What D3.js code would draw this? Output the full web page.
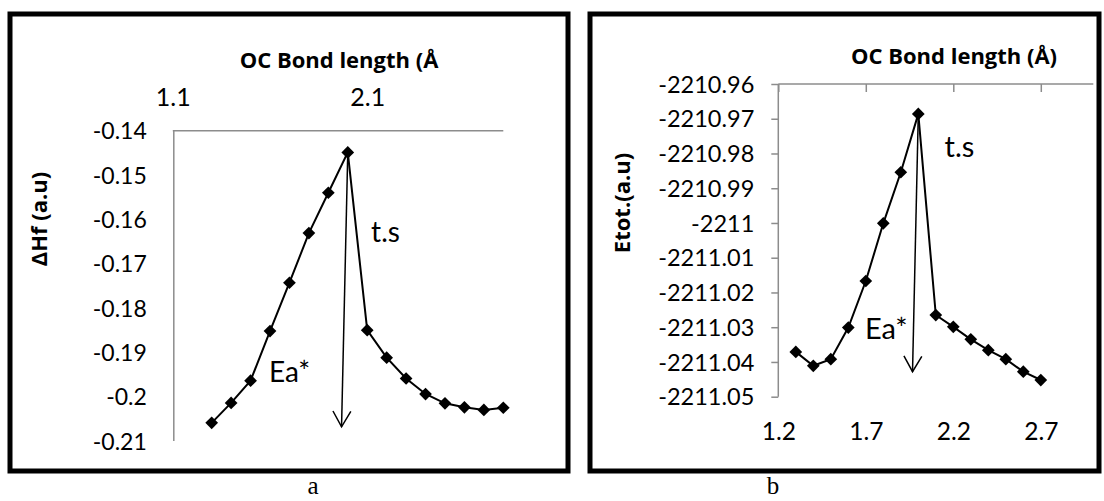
<!DOCTYPE html>
<html>
<head>
<meta charset="utf-8">
<script src="https://cdn.jsdelivr.net/npm/d3@7"></script>
<style>
  html, body { margin: 0; padding: 0; background: #fff; }
  svg { display: block; }
</style>
</head>
<body>
<svg id="chart" width="1104" height="501"></svg>
<script>
// ---------- data ----------
const bondLengthA = [1.3, 1.4, 1.5, 1.6, 1.7, 1.8, 1.9, 2.0, 2.1, 2.2, 2.3, 2.4, 2.5, 2.6, 2.7, 2.8];
const deltaHf = [-0.2059, -0.2014, -0.1964, -0.1852, -0.1743, -0.1631, -0.1540, -0.1449,
                 -0.1850, -0.1912, -0.1959, -0.1994, -0.2015, -0.2024, -0.2030, -0.2025];
const bondLengthB = [1.3, 1.4, 1.5, 1.6, 1.7, 1.8, 1.9, 2.0, 2.1, 2.2, 2.3, 2.4, 2.5, 2.6, 2.7];
const etot = [-2211.0371, -2211.0411, -2211.0392, -2211.0301, -2211.0167, -2211.0001, -2210.9854, -2210.9686,
              -2211.0265, -2211.0299, -2211.0335, -2211.0366, -2211.0392, -2211.0428, -2211.0452];

const aYTicks = [-0.14, -0.15, -0.16, -0.17, -0.18, -0.19, -0.20, -0.21];
const aXTicks = [1.1, 2.1];
const bYTicks = [-2210.96, -2210.97, -2210.98, -2210.99, -2211.00, -2211.01, -2211.02, -2211.03, -2211.04, -2211.05];
const bXTicks = [1.2, 1.7, 2.2, 2.7];

const aTitle = "OC Bond length (Å";
const aYTitle = "ΔHf (a.u)";
const bTitle = "OC Bond length (Å)";
const bYTitle = "Etot.(a.u)";

// annotation arrows (data units): [x0, y0, x1, y1]
const aArrow = [2.0, -0.1449, 1.968, -0.2068];
const bArrow = [2.0, -2210.9686, 1.967, -2211.0428];

// ---------- drawing ----------
const svg = d3.select("#chart");
const fmt = v => String(+v.toFixed(2));
const AXIS = "#8c8c8c";
const REG = "Lato, 'Open Sans', sans-serif";
const BOLD = "'Open Sans', Lato, sans-serif";

function txt(sel, family, size, weight) {
  return sel.style("font-family", family).style("font-size", size + "px")
    .style("font-weight", weight || "normal").style("fill", "#000");
}

function frame(x0, y0, x1, y1) {
  svg.append("rect").attr("x", x0).attr("y", y0).attr("width", x1 - x0).attr("height", y1 - y0)
    .attr("fill", "none").attr("stroke", "#000").attr("stroke-width", 5);
}

function arrow(g, x, y, a) {
  const x0 = x(a[0]), y0 = y(a[1]), x1 = x(a[2]), y1 = y(a[3]);
  g.append("line").attr("x1", x0).attr("y1", y0).attr("x2", x1).attr("y2", y1)
    .attr("stroke", "#000").attr("stroke-width", 1.5);
  const ang = Math.atan2(y1 - y0, x1 - x0);
  const L = 18, W = 0.52;
  const p1 = [x1 - L * Math.cos(ang - W), y1 - L * Math.sin(ang - W)];
  const p2 = [x1 - L * Math.cos(ang + W), y1 - L * Math.sin(ang + W)];
  g.append("path").attr("d", `M${p1[0]},${p1[1]}L${x1},${y1}L${p2[0]},${p2[1]}`)
    .attr("fill", "none").attr("stroke", "#000").attr("stroke-width", 1.5);
}

function series(g, x, y, xs, ys) {
  const pts = xs.map((d, i) => [d, ys[i]]);
  g.append("path").datum(pts)
    .attr("d", d3.line().x(d => x(d[0])).y(d => y(d[1])))
    .attr("fill", "none").attr("stroke", "#000").attr("stroke-width", 2);
  g.selectAll("path.pt").data(pts).enter().append("path").attr("class", "pt")
    .attr("d", d3.symbol(d3.symbolSquare, 81)())
    .attr("transform", d => `translate(${x(d[0])},${y(d[1])}) rotate(45)`)
    .attr("fill", "#000");
}

// ----- panel a -----
frame(10, 14, 568, 471);
{
  const g = svg.append("g");
  const x = d3.scaleLinear().domain([1.1, 2.8]).range([172.8, 503.3]);
  const y = d3.scaleLinear().domain([-0.21, -0.14]).range([441, 130.7]);
  g.append("line").attr("x1", x(1.1)).attr("x2", x(2.8)).attr("y1", y(-0.14)).attr("y2", y(-0.14))
    .attr("stroke", AXIS).attr("stroke-width", 1.5);
  g.append("line").attr("x1", x(1.1) + 1).attr("x2", x(1.1) + 1).attr("y1", y(-0.14)).attr("y2", y(-0.21))
    .attr("stroke", AXIS).attr("stroke-width", 1.5);
  const ya = g.append("g").attr("transform", `translate(${x(1.1) - 26},0)`)
    .call(d3.axisLeft(y).tickValues(aYTicks).tickSize(0).tickPadding(0).tickFormat(fmt));
  ya.select(".domain").remove();
  txt(ya.selectAll("text"), REG, 23).attr("dy", "0.35em");
  const xa = g.append("g").attr("transform", `translate(0,${y(-0.14) - 25})`)
    .call(d3.axisTop(x).tickValues(aXTicks).tickSize(0).tickPadding(0).tickFormat(fmt));
  xa.select(".domain").remove();
  txt(xa.selectAll("text"), REG, 25).attr("dy", "0");
  txt(g.append("text").attr("x", 339).attr("y", 68).attr("text-anchor", "middle"), BOLD, 22, "bold").text(aTitle);
  txt(g.append("text").attr("transform", "translate(47,219) rotate(-90)").attr("text-anchor", "middle"), BOLD, 22, "bold").text(aYTitle);
  series(g, x, y, bondLengthA, deltaHf);
  arrow(g, x, y, aArrow);
  txt(g.append("text").attr("x", x(2.12)).attr("y", y(-0.1651)), REG, 28).text("t.s");
  txt(g.append("text").attr("x", x(1.595)).attr("y", y(-0.1966)), REG, 28).text("Ea*");
}

// ----- panel b -----
frame(590, 14, 1099, 471);
{
  const g = svg.append("g");
  const x = d3.scaleLinear().domain([1.2, 3.0]).range([778.3, 1093.3]);
  const y = d3.scaleLinear().domain([-2211.05, -2210.96]).range([396.7, 84]);
  g.append("line").attr("x1", x(1.2)).attr("x2", x(3.0)).attr("y1", y(-2210.96)).attr("y2", y(-2210.96))
    .attr("stroke", AXIS).attr("stroke-width", 1.5);
  g.append("line").attr("x1", x(1.2)).attr("x2", x(1.2)).attr("y1", y(-2210.96)).attr("y2", y(-2211.05))
    .attr("stroke", AXIS).attr("stroke-width", 1.5);
  const ya = g.append("g").attr("transform", `translate(${x(1.2)},0)`)
    .call(d3.axisLeft(y).tickValues(bYTicks).tickSize(7).tickPadding(17).tickFormat(fmt));
  ya.select(".domain").remove();
  ya.selectAll("line").attr("stroke", AXIS).attr("stroke-width", 1.5);
  txt(ya.selectAll("text"), REG, 23.5).attr("dy", "0.35em");
  const xt = g.append("g").attr("transform", `translate(0,${y(-2210.96)})`)
    .call(d3.axisBottom(x).tickValues(bXTicks).tickSize(8).tickFormat(""));
  xt.select(".domain").remove();
  xt.selectAll("line").attr("stroke", AXIS).attr("stroke-width", 1.5);
  const xa = g.append("g").attr("transform", `translate(0,${y(-2211.05) + 35})`)
    .call(d3.axisBottom(x).tickValues(bXTicks).tickSize(0).tickPadding(0).tickFormat(fmt));
  xa.select(".domain").remove();
  txt(xa.selectAll("text"), REG, 24.5).attr("dy", "0.35em");
  txt(g.append("text").attr("x", 954).attr("y", 64).attr("text-anchor", "middle"), BOLD, 22, "bold").text(bTitle);
  txt(g.append("text").attr("transform", "translate(630,203) rotate(-90)").attr("text-anchor", "middle"), BOLD, 22, "bold").text(bYTitle);
  series(g, x, y, bondLengthB, etot);
  arrow(g, x, y, bArrow);
  txt(g.append("text").attr("x", x(2.15)).attr("y", y(-2210.981)), REG, 29).text("t.s");
  txt(g.append("text").attr("x", x(1.695)).attr("y", y(-2211.0334)), REG, 29).text("Ea*");
}

txt(svg.append("text").attr("x", 313).attr("y", 494).attr("text-anchor", "middle"), "'Liberation Serif', serif", 25).text("a");
txt(svg.append("text").attr("x", 773).attr("y", 494).attr("text-anchor", "middle"), "'Liberation Serif', serif", 25).text("b");
</script>
</body>
</html>
